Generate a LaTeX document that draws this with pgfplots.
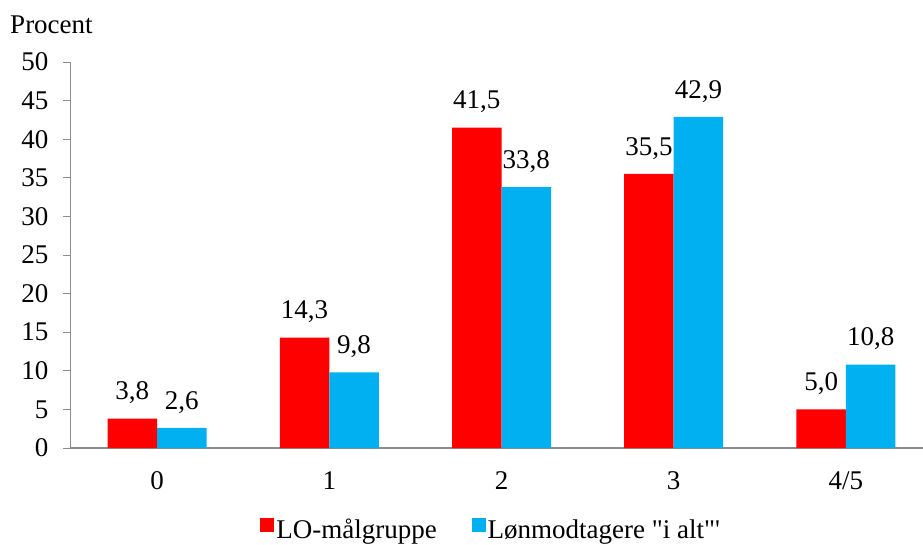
\documentclass[border=0pt]{standalone}
\usepackage{fontspec}
\setmainfont{Liberation Serif}
\usepackage{pgfplots}
\pgfplotsset{compat=1.18}
\definecolor{lored}{HTML}{FF0000}
\definecolor{lonblue}{HTML}{00B0F0}
\definecolor{axisgray}{HTML}{8C8C8C}

\begin{document}
\begin{tikzpicture}[font=\fontsize{27}{32}\selectfont]
    \path[use as bounding box] (-71pt,-96pt) rectangle (852pt,448pt);
    \begin{axis}[
            at={(0,0)}, anchor=south west,
            scale only axis,
            width=861pt, height=386pt,
            clip=false,
            ybar, bar width=49.5pt,
            xmin=-0.5, xmax=4.5,
            ymin=0, ymax=50,
            ytick={0,5,...,50},
            xtick={0,1,2,3,4},
            xticklabels={0,1,2,3,4/5},
            axis x line*=bottom,
            axis y line*=left,
            x axis line style={-, draw=axisgray, line width=1.5pt},
            y axis line style={-, draw=axisgray, line width=1pt},
            xtick style={draw=none},
            ytick style={draw=axisgray, line width=1pt},
            tick align=outside,
            major tick length=8pt,
            yticklabel style={xshift=-11pt},
            xticklabel style={yshift=-12pt},
            /pgf/number format/assume math mode=true,
            nodes near coords={\pgfmathprintnumber[fixed,precision=1,zerofill,use comma,assume math mode=true]{\pgfplotspointmeta}},
            nodes near coords style={yshift=11pt},
            enlargelimits=false,
            legend columns=2,
            legend style={draw=none, at={(0.488,-0.212)}, anchor=center,
                /tikz/every even column/.append style={column sep=33pt}},
            legend image code/.code={\fill[#1] (0pt,-2pt) rectangle (14pt,12pt);},
        ]
        \addplot[fill=lored, draw=none, bar shift=-24.75pt] coordinates {(0,3.8) (1,14.3) (2,41.5) (3,35.5) (4,5.0)};
        \addplot[fill=lonblue, draw=none, bar shift=24.75pt] coordinates {(0,2.6) (1,9.8) (2,33.8) (3,42.9) (4,10.8)};
        \legend{LO-målgruppe, Lønmodtagere \textquotedbl i alt\textquotedbl\textquotesingle}
        \node[anchor=base west, inner sep=0pt] at (axis description cs:-0.0708,1.075) {Procent};
    \end{axis}
\end{tikzpicture}
\end{document}
